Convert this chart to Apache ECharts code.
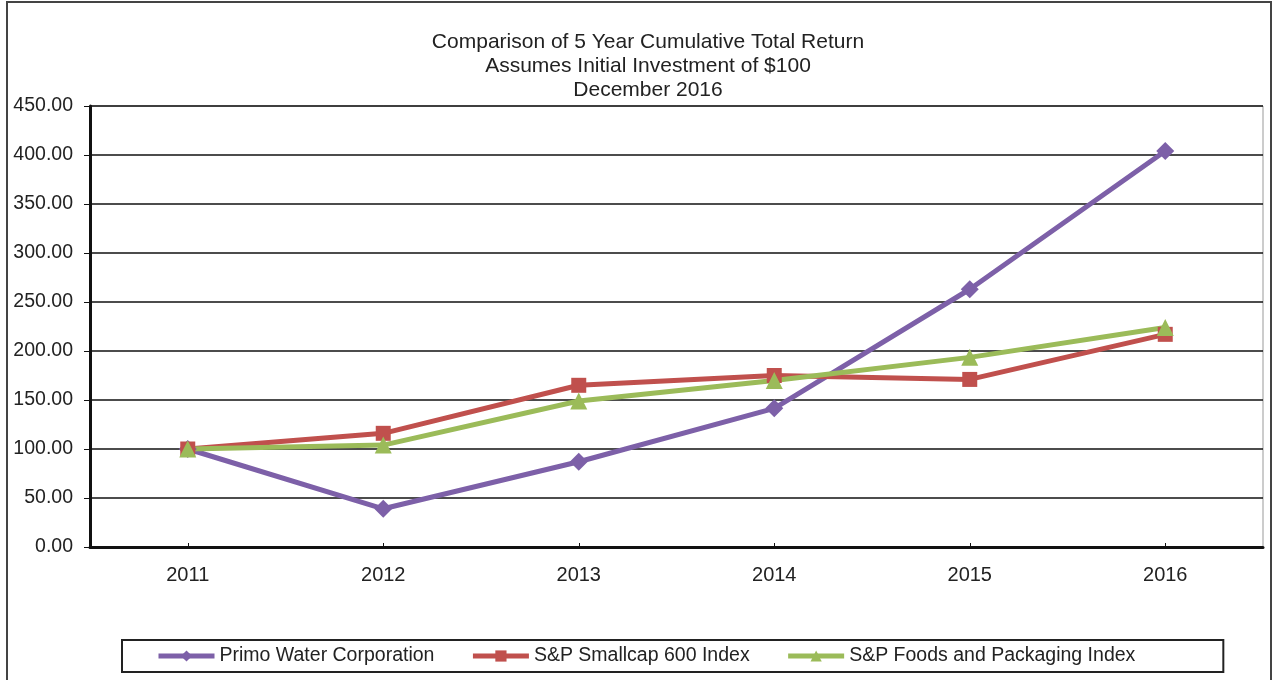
<!DOCTYPE html>
<html>
<head>
<meta charset="UTF-8">
<title>Cumulative Total Return</title>
<script type="text/javascript" src="https://cdn.jsdelivr.net/npm/echarts@6/dist/echarts.min.js"></script>
<style>
body{margin:0;background:#fff;}
</style>
</head>
<body>
	<div id="show" style="width:1273px;height:680px"></div>
	<script type="text/javascript">
		var years=['2011','2012','2013','2014','2015','2016'];
		var primo=[100,39,87,141.5,263,404];
		var smallcap=[100,116,165,175,171,217];
		var foods=[100,104,149,170,193.5,224];
		var font='"Liberation Sans", Arial, sans-serif';

		var myCharts=echarts.init(document.getElementById('show'));
		myCharts.setOption({
			animation:false,
			title:{
				text:'Comparison of 5 Year Cumulative Total Return\nAssumes Initial Investment of $100\nDecember 2016',
				left:643,
				top:25,
				textAlign:'center',
				textStyle:{fontFamily:font,fontSize:21,fontWeight:'normal',color:'#222',lineHeight:24}
			},
			graphic:[{
				type:'rect',
				shape:{x:7,y:2,width:1264,height:690},
				style:{fill:null,stroke:'#444',lineWidth:2}
			}],
			legend:{
				left:122,
				top:640,
				width:1140,
				itemWidth:56,
				itemHeight:14,
				itemGap:36,
				padding:[6,88,6,34],
				borderColor:'#222',
				borderWidth:2,
				lineStyle:{width:5},
				textStyle:{fontFamily:font,fontSize:19.5,color:'#222'},
				data:['Primo Water Corporation','S&P Smallcap 600 Index','S&P Foods and Packaging Index']
			},
			grid:{
				left:90,
				right:10,
				top:106,
				bottom:133,
				show:true,
				borderColor:'#999',
				borderWidth:1
			},
			xAxis:{
				type:'category',
				data:years,
				boundaryGap:true,
				axisLine:{lineStyle:{color:'#111',width:3}},
				axisTick:{show:true,alignWithLabel:true,interval:0,length:4,inside:true,lineStyle:{color:'#111'}},
				axisLabel:{fontFamily:font,fontSize:20,color:'#222',margin:18}
			},
			yAxis:{
				type:'value',
				min:0,
				max:450,
				interval:50,
				axisLine:{show:true,lineStyle:{color:'#111',width:3}},
				axisTick:{show:true,length:6,lineStyle:{color:'#111'}},
				axisLabel:{fontFamily:font,fontSize:19.5,color:'#222',margin:17,formatter:function(v){return v.toFixed(2);}},
				splitLine:{lineStyle:{color:'#111',width:1.5}}
			},
			series:[{
				name:'Primo Water Corporation',
				type:'line',
				data:primo,
				symbol:'diamond',
				symbolSize:18,
				lineStyle:{width:5,color:'#7d60a8'},
				itemStyle:{color:'#7d60a8'}
			},{
				name:'S&P Smallcap 600 Index',
				type:'line',
				data:smallcap,
				symbol:'rect',
				symbolSize:15,
				lineStyle:{width:5,color:'#c0504d'},
				itemStyle:{color:'#c0504d'}
			},{
				name:'S&P Foods and Packaging Index',
				type:'line',
				data:foods,
				symbol:'triangle',
				symbolSize:17,
				lineStyle:{width:5,color:'#9bbb59'},
				itemStyle:{color:'#9bbb59'}
			}]
		});
	</script>
</body>
</html>
